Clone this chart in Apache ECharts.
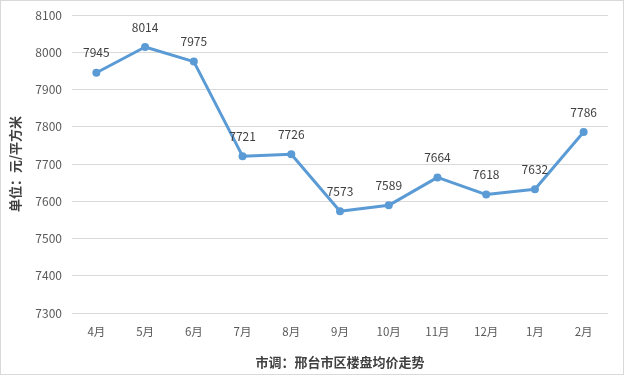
<!DOCTYPE html>
<html><head><meta charset="utf-8">
<script src="https://cdn.jsdelivr.net/npm/echarts@6/dist/echarts.min.js"></script>
<style>html,body{margin:0;padding:0;background:#fff}#c{width:624px;height:375px;box-sizing:border-box;border:1px solid #d9d9d9}</style>
</head><body><div id="c"></div>
<script>
const categories = ['4月','5月','6月','7月','8月','9月','10月','11月','12月','1月','2月'];
const prices = [7945,8014,7975,7721,7726,7573,7589,7664,7618,7632,7786];
const yMin = 7300, yMax = 8100, yStep = 100;
const chart = echarts.init(document.getElementById('c'), null, {renderer:'canvas'});
const font = '"Microsoft YaHei","Noto Sans CJK SC","Liberation Sans",sans-serif';
chart.setOption({
  animation:false,
  grid:{left:69,right:15,top:14,bottom:60,containLabel:false},
  xAxis:{type:'category',data:categories,boundaryGap:true,
    axisLine:{show:false},axisTick:{show:false},
    axisLabel:{color:'#595959',fontSize:11.5,fontFamily:font,margin:13},
    name:'市调：邢台市区楼盘均价走势',nameLocation:'middle',nameGap:43,
    nameTextStyle:{color:'#404040',fontSize:13,fontWeight:'bold',fontFamily:font}},
  yAxis:{type:'value',min:yMin,max:yMax,interval:yStep,
    axisLine:{show:false},axisTick:{show:false},
    splitLine:{lineStyle:{color:'#d9d9d9',width:1}},
    axisLabel:{color:'#595959',fontSize:12,fontFamily:font,margin:10,formatter:v=>String(v)},
    name:'单位：元/平方米',nameLocation:'middle',nameGap:50,nameRotate:90,
    nameTextStyle:{color:'#404040',fontSize:13,fontWeight:'bold',fontFamily:font}},
  series:[{type:'line',data:prices,symbol:'circle',symbolSize:8,
    itemStyle:{color:'#5B9BD5'},lineStyle:{color:'#5B9BD5',width:3},
    label:{show:true,position:'top',distance:10,color:'#404040',fontSize:12,fontFamily:font}}]
});
</script></body></html>
